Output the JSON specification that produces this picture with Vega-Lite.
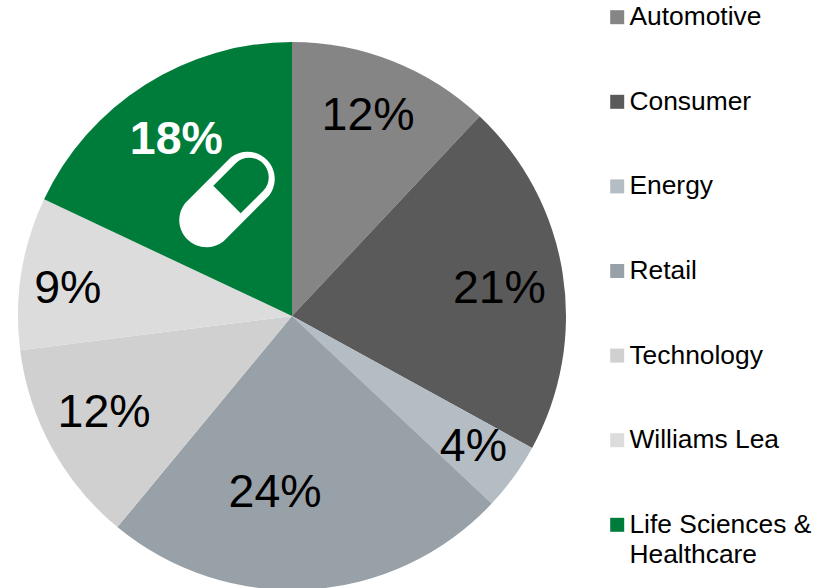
{"$schema":"https://vega.github.io/schema/vega-lite/v6.json","width":584,"height":544,"autosize":{"type":"none"},"padding":{"left":0,"top":44,"right":244,"bottom":0},"background":"white","view":{"stroke":null},
"data":{"values":[
{"segment":"Automotive","value":12,"label":"12%","rank":1},
{"segment":"Consumer","value":21,"label":"21%","rank":2},
{"segment":"Energy","value":4,"label":"4%","rank":3},
{"segment":"Retail","value":24,"label":"24%","rank":4},
{"segment":"Technology","value":12,"label":"12%","rank":5},
{"segment":"Williams Lea","value":9,"label":"9%","rank":6},
{"segment":"Life Sciences & Healthcare","value":18,"label":"18%","rank":7}]},
"encoding":{"theta":{"field":"value","type":"quantitative","stack":true},"order":{"field":"rank","type":"ordinal"},"detail":{"field":"segment","type":"nominal"}},
"layer":[
{"mark":{"type":"arc","outerRadius":274,"innerRadius":0},
"encoding":{"color":{"field":"segment","type":"nominal","scale":{"domain":["Automotive","Consumer","Energy","Retail","Technology","Williams Lea","Life Sciences & Healthcare"],"range":["#858585","#5A5A5A","#B4BCC4","#98A1A8","#D0D0D0","#DCDCDC","#007C3A"]},
"legend":{"title":null,"orient":"none","legendX":604,"legendY":-40,"padding":0,"symbolType":"square","symbolSize":196,"symbolStrokeWidth":0,"labelFont":"Liberation Sans","labelFontSize":26.4,"labelColor":"#000000","labelOffset":-1,"labelLimit":300,"rowPadding":57.6,"labelExpr":"datum.label == 'Life Sciences & Healthcare' ? ['Life Sciences &','Healthcare'] : datum.label","encode":{"labels":{"update":{"lineHeight":{"value":30}}}}}}}},
{"mark":{"type":"text","font":"Liberation Sans","fontSize":46.5,"color":"#000000","radius":215,"dx":-3},"encoding":{"text":{"condition":{"test":"datum.rank !== 1","value":""},"field":"label"}}},
{"mark":{"type":"text","font":"Liberation Sans","fontSize":46.5,"color":"#000000","radius":209,"dx":1,"dy":6},"encoding":{"text":{"condition":{"test":"datum.rank !== 2","value":""},"field":"label"}}},
{"mark":{"type":"text","font":"Liberation Sans","fontSize":46.5,"color":"#000000","radius":223,"dx":1},"encoding":{"text":{"condition":{"test":"datum.rank !== 3","value":""},"field":"label"}}},
{"mark":{"type":"text","font":"Liberation Sans","fontSize":46.5,"color":"#000000","radius":176,"dx":-28,"dy":1},"encoding":{"text":{"condition":{"test":"datum.rank !== 4","value":""},"field":"label"}}},
{"mark":{"type":"text","font":"Liberation Sans","fontSize":46.5,"color":"#000000","radius":211,"dx":-3,"dy":-5},"encoding":{"text":{"condition":{"test":"datum.rank !== 5","value":""},"field":"label"}}},
{"mark":{"type":"text","font":"Liberation Sans","fontSize":46.5,"color":"#000000","radius":226,"dx":-1,"dy":8},"encoding":{"text":{"condition":{"test":"datum.rank !== 6","value":""},"field":"label"}}},
{"mark":{"type":"text","font":"Liberation Sans","fontSize":46.5,"fontWeight":"bold","color":"#ffffff","radius":212,"dx":-2,"dy":3},"encoding":{"text":{"condition":{"test":"datum.rank !== 7","value":""},"field":"label"}}},
{"data":{"values":[{"icon":"pill"}]},
"mark":{"type":"point","filled":true,"color":"#ffffff","opacity":1,"size":4.4,"strokeWidth":0,"xOffset":-65,"yOffset":-116.5,"shape":"M3.5 -40 A26 26 0 0 1 40 -3.5 L-3.5 40 A26 26 0 0 1 -40 3.5 Z M-13.08 -13.08 L13.08 13.08 L34.58 -8.42 A18.5 18.5 0 0 0 8.42 -34.58 Z"},"encoding":{"theta":null,"order":null,"detail":null}}
]}
